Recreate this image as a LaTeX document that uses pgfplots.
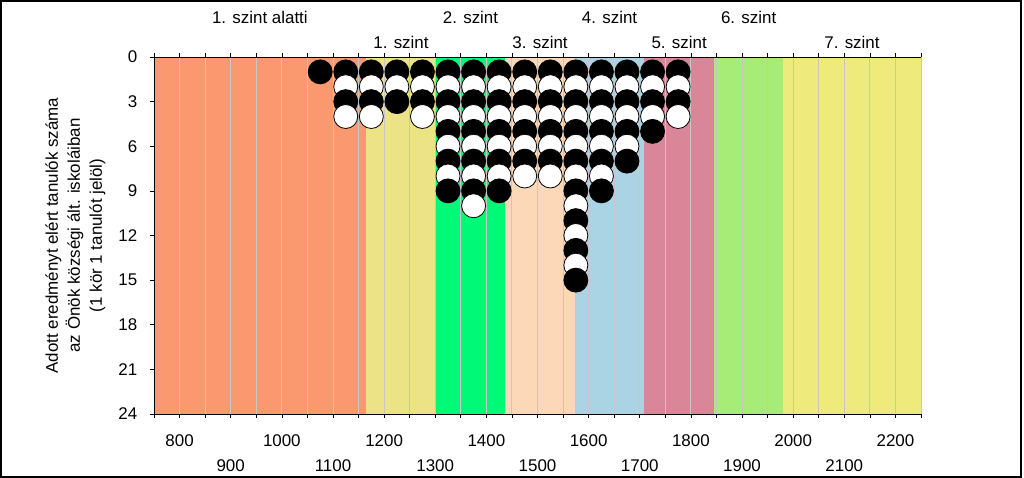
\documentclass[border=0pt]{standalone}
\usepackage{fontspec}
\setmainfont{Liberation Sans}
\usepackage{pgfplots}
\pgfplotsset{compat=1.18}
\definecolor{cSalmon}{RGB}{250,152,112}
\definecolor{cKhaki}{RGB}{236,226,134}
\definecolor{cSpring}{RGB}{0,250,120}
\definecolor{cPeach}{RGB}{253,216,184}
\definecolor{cBlue}{RGB}{170,212,228}
\definecolor{cPink}{RGB}{216,134,152}
\definecolor{cLgreen}{RGB}{168,236,120}
\definecolor{cYellow}{RGB}{238,234,124}
\newcommand{\lfont}{\fontsize{12.7}{16.5}\selectfont}
\begin{document}
\begin{tikzpicture}
\begin{axis}[
  set layers,
  at={(115.5pt,48pt)}, anchor=south west,
  width=575.25pt, height=267.75pt, scale only axis,
  xmin=750, xmax=2250, ymin=0, ymax=24, y dir=reverse,
  axis x line*=box, axis y line*=left,
  clip=false,
  tick align=outside,
  major tick length=3pt, minor tick length=3pt,
  every tick/.style={black, line width=0.5pt},
  axis line style={black, line width=0.6pt},
  xtick={800,1000,...,2200},
  minor xtick={750,850,...,2250},
  extra x ticks={900,1100,...,2100},
  extra x tick style={grid=major, xticklabel style={yshift=-18.75pt}},
  xmajorgrids, xminorgrids,
  major grid style={black!22, line width=0.7pt},
  minor grid style={black!22, line width=0.7pt},
  ytick={0,3,...,24},
  /pgf/number format/assume math mode=true,
  /pgf/number format/1000 sep={},
  tick label style={font=\lfont},
  xticklabel style={anchor=center, yshift=-17.25pt},
  yticklabel style={xshift=-6pt},
  every axis y label/.style={at={(axis description cs:0,0.5)}, xshift=-59pt, rotate=90, anchor=center, align=center, font=\lfont},
  ylabel={Adott eredményt elért tanulók száma\\az Önök községi ált. iskoláiban\\(1 kör 1 tanulót jelöl)},
  bk/.style={only marks, mark=*, mark size=9pt, mark options={fill=black, draw=black, line width=0.6pt}},
  wt/.style={only marks, mark=*, mark size=9pt, mark options={fill=white, draw=black, line width=0.6pt}},
]
% level bands
\addplot[fill=cSalmon, draw=none, on layer=axis background] coordinates {(750,24) (1165,24)} \closedcycle;
\addplot[fill=cKhaki, draw=none, on layer=axis background] coordinates {(1165,24) (1301,24)} \closedcycle;
\addplot[fill=cSpring, draw=none, on layer=axis background] coordinates {(1301,24) (1437,24)} \closedcycle;
\addplot[fill=cPeach, draw=none, on layer=axis background] coordinates {(1437,24) (1573,24)} \closedcycle;
\addplot[fill=cBlue, draw=none, on layer=axis background] coordinates {(1573,24) (1709,24)} \closedcycle;
\addplot[fill=cPink, draw=none, on layer=axis background] coordinates {(1709,24) (1845,24)} \closedcycle;
\addplot[fill=cLgreen, draw=none, on layer=axis background] coordinates {(1845,24) (1981,24)} \closedcycle;
\addplot[fill=cYellow, draw=none, on layer=axis background] coordinates {(1981,24) (2250,24)} \closedcycle;
% students, row by row
\addplot[bk] coordinates {(1075,1) (1125,1) (1175,1) (1225,1) (1275,1) (1325,1) (1375,1) (1425,1) (1475,1) (1525,1) (1575,1) (1625,1) (1675,1) (1725,1) (1775,1)};
\addplot[wt] coordinates {(1125,2) (1175,2) (1225,2) (1275,2) (1325,2) (1375,2) (1425,2) (1475,2) (1525,2) (1575,2) (1625,2) (1675,2) (1725,2) (1775,2)};
\addplot[bk] coordinates {(1125,3) (1175,3) (1225,3) (1275,3) (1325,3) (1375,3) (1425,3) (1475,3) (1525,3) (1575,3) (1625,3) (1675,3) (1725,3) (1775,3)};
\addplot[wt] coordinates {(1125,4) (1175,4) (1275,4) (1325,4) (1375,4) (1425,4) (1475,4) (1525,4) (1575,4) (1625,4) (1675,4) (1725,4) (1775,4)};
\addplot[bk] coordinates {(1325,5) (1375,5) (1425,5) (1475,5) (1525,5) (1575,5) (1625,5) (1675,5) (1725,5)};
\addplot[wt] coordinates {(1325,6) (1375,6) (1425,6) (1475,6) (1525,6) (1575,6) (1625,6) (1675,6)};
\addplot[bk] coordinates {(1325,7) (1375,7) (1425,7) (1475,7) (1525,7) (1575,7) (1625,7) (1675,7)};
\addplot[wt] coordinates {(1325,8) (1375,8) (1425,8) (1475,8) (1525,8) (1575,8) (1625,8)};
\addplot[bk] coordinates {(1325,9) (1375,9) (1425,9) (1575,9) (1625,9)};
\addplot[wt] coordinates {(1375,10) (1575,10)};
\addplot[bk] coordinates {(1575,11)};
\addplot[wt] coordinates {(1575,12)};
\addplot[bk] coordinates {(1575,13)};
\addplot[wt] coordinates {(1575,14)};
\addplot[bk] coordinates {(1575,15)};
% level names
\node[font=\lfont] at ([yshift=30pt]axis cs:957,0) {1. szint alatti};
\node[font=\lfont] at ([yshift=11.25pt]axis cs:1233,0) {1. szint};
\node[font=\lfont] at ([yshift=30pt]axis cs:1369,0) {2. szint};
\node[font=\lfont] at ([yshift=11.25pt]axis cs:1505,0) {3. szint};
\node[font=\lfont] at ([yshift=30pt]axis cs:1641,0) {4. szint};
\node[font=\lfont] at ([yshift=11.25pt]axis cs:1777,0) {5. szint};
\node[font=\lfont] at ([yshift=30pt]axis cs:1913,0) {6. szint};
\node[font=\lfont] at ([yshift=11.25pt]axis cs:2115,0) {7. szint};
\end{axis}
\draw[line width=1.5pt] (0.75pt,0.75pt) rectangle (765.75pt,357.75pt);
\pgfresetboundingbox
\useasboundingbox (0,0) rectangle (768pt,358.5pt);
\end{tikzpicture}
\end{document}
